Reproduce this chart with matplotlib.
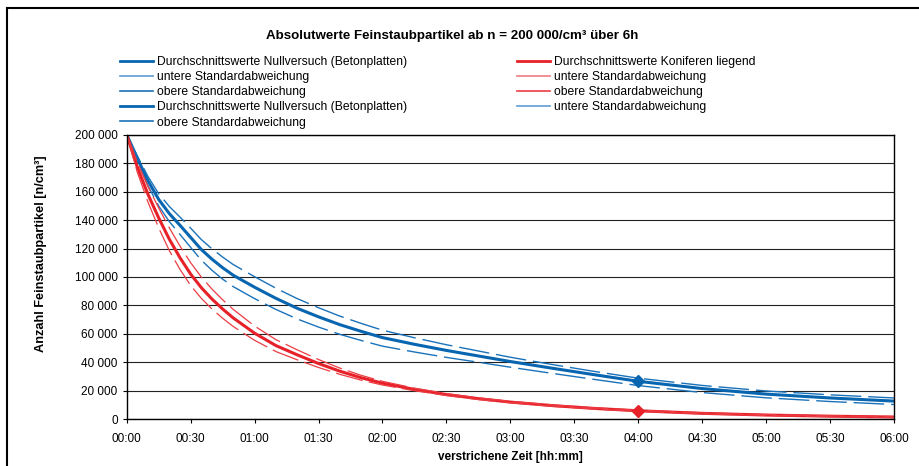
"""Feinstaubpartikel: Nullversuch vs. Koniferen liegend, 6h."""

import matplotlib
matplotlib.use("Agg")
import matplotlib.pyplot as plt
from matplotlib.patches import Rectangle
from matplotlib.ticker import FuncFormatter

plt.rcParams["font.family"] = ["Liberation Sans", "DejaVu Sans"]
plt.rcParams["font.size"] = 8

# Zeit in Minuten
minutes = [0, 5, 10, 15, 20, 25, 30, 35, 40, 45, 50, 60, 70, 80, 90, 100, 110, 120,
           135, 150, 165, 180, 200, 220, 240, 270, 300, 330, 360]

# Werte in Tausend Partikel / cm3
blue_mean = [200, 183.3, 167.5, 154.5, 144.5, 136.3, 127.8, 119.3, 112.5, 106.5,
             101.2, 92.8, 85, 78, 72, 66.5, 61.8, 57.4, 52.7, 48.4, 44.5, 40.6,
             35.8, 31.2, 26.7, 21.6, 17.7, 15, 12.8]
blue_upper = [200, 185, 170.5, 158.5, 149.5, 142.1, 134.3, 126.3, 119.8, 114,
              108.7, 100.2, 92.1, 84.8, 78.4, 72.5, 67.4, 62.6, 57.3, 52.4, 48,
              43.6, 38.4, 33.5, 28.9, 23.8, 19.9, 17.2, 15.0]
blue_lower = [200, 181.3, 164, 149.9, 138.9, 129.9, 120.8, 111.8, 104.7, 98.5,
              93.2, 84.8, 77.2, 70.5, 64.8, 59.7, 55.4, 51.4, 47.3, 43.5, 40.1,
              36.6, 32.2, 27.9, 23.7, 18.8, 15.1, 12.5, 10.4]

red_mean = [200, 177, 158, 141.5, 126.5, 113.5, 102, 92.5, 84.5, 77.5, 71.2,
            60.5, 51.8, 45.3, 39.2, 33.8, 29.2, 25.4, 21, 17.4, 14.5, 12.1, 9.6,
            7.6, 6, 4.2, 3, 2.2, 1.6]
red_upper = [200, 180.5, 163.5, 148.5, 134.5, 121.7, 110, 100, 91.5, 84, 77.2,
             65.5, 56, 48.8, 42, 36, 30.9, 26.7, 21.9, 18.1, 15.1, 12.6, 10.1, 8,
             6.4, 4.6, 3.3, 2.5, 1.9]
red_lower = [200, 173.5, 152.5, 134.5, 118.5, 105.3, 94, 85, 77.5, 71, 65.2,
             55.5, 47.6, 41.8, 36.4, 31.6, 27.5, 24.1, 20.1, 16.7, 13.9, 11.6,
             9.1, 7.2, 5.6, 3.8, 2.7, 1.9, 1.3]

marker_time = 240

x_ticks = list(range(0, 361, 30))
y_ticks = list(range(0, 200001, 20000))

BLUE = "#0865B0"
BLUE_LIGHT = "#5E9CD3"
BLUE_STD = "#1A72BA"
RED = "#E62129"
RED_LIGHT = "#F07C80"
RED_STD = "#EC3C42"
DASH = (0, (22, 5))


def k(vals):
    return [v * 1000 for v in vals]


fig = plt.figure(figsize=(9.19, 4.66), dpi=100)
ax = fig.add_axes([0.1379, 0.1002, 0.8349, 0.6108])

ax.plot(minutes, k(blue_mean), color=BLUE, lw=2.2, solid_capstyle="round",
        solid_joinstyle="round")
ax.plot(minutes, k(blue_lower), color=BLUE_STD, lw=1.0, linestyle=DASH)
ax.plot(minutes, k(blue_upper), color=BLUE_STD, lw=1.0, linestyle=DASH)
ax.plot(minutes, k(red_mean), color=RED, lw=2.2, solid_capstyle="round",
        solid_joinstyle="round")
ax.plot(minutes, k(red_lower), color=RED_STD, lw=0.9, linestyle=DASH)
ax.plot(minutes, k(red_upper), color=RED_STD, lw=0.9, linestyle=DASH)

mi = minutes.index(marker_time)
ax.plot([marker_time], [blue_mean[mi] * 1000], marker="D", color=BLUE, ms=6)
ax.plot([marker_time], [red_mean[mi] * 1000], marker="D", color=RED, ms=6)

ax.set_xlim(0, 360)
ax.set_ylim(0, 200000)
ax.set_xticks(x_ticks)
ax.set_xticklabels([f"{t // 60:02d}:{t % 60:02d}" for t in x_ticks])
ax.set_yticks(y_ticks)
ax.yaxis.set_major_formatter(FuncFormatter(lambda v, p: f"{int(v):,}".replace(",", " ")))
ax.tick_params(axis="both", direction="out", length=3, width=0.8, labelsize=8.5,
               color="black")
ax.tick_params(axis="x", pad=7)
ax.grid(axis="y", color="#222222", linewidth=0.8)
ax.set_axisbelow(True)
for sp in ax.spines.values():
    sp.set_color("black")
    sp.set_linewidth(1.0)

ax.set_xlabel("verstrichene Zeit [hh:mm]", fontsize=8.5, fontweight="bold", labelpad=4.5)
ax.set_ylabel("Anzahl Feinstaubpartikel [n/cm³]", fontsize=9.2, fontweight="bold")
ax.yaxis.set_label_coords(-0.104, 0.581)

fig.text(0.492, 0.923, "Absolutwerte Feinstaubpartikel ab n = 200 000/cm³ über 6h",
         ha="center", va="center", fontsize=9.6, fontweight="bold")

# Legende (zwei Spalten, wie Excel)
leg_blue_mean = plt.Line2D([], [], color=BLUE, lw=2.0)
leg_blue_low = plt.Line2D([], [], color=BLUE_LIGHT, lw=1.2)
leg_blue_up = plt.Line2D([], [], color=BLUE_STD, lw=1.2)
leg_red_mean = plt.Line2D([], [], color=RED, lw=2.0)
leg_red_low = plt.Line2D([], [], color=RED_LIGHT, lw=1.2)
leg_red_up = plt.Line2D([], [], color=RED_STD, lw=1.2)

handles = [leg_blue_mean, leg_blue_low, leg_blue_up, leg_blue_mean, leg_blue_up,
           leg_red_mean, leg_red_low, leg_red_up, leg_blue_low]
labels = ["Durchschnittswerte Nullversuch (Betonplatten)",
          "untere Standardabweichung",
          "obere Standardabweichung",
          "Durchschnittswerte Nullversuch (Betonplatten)",
          "obere Standardabweichung",
          "Durchschnittswerte Koniferen liegend",
          "untere Standardabweichung",
          "obere Standardabweichung",
          "untere Standardabweichung"]
fig.legend(handles, labels, ncol=2, loc="upper left",
           bbox_to_anchor=(120 / 919, 1 - 56 / 466), frameon=False, fontsize=8.7,
           borderpad=0, handlelength=2.75, handletextpad=0.3, labelspacing=0.26,
           columnspacing=9.1, borderaxespad=0)

fig.add_artist(Rectangle((7 / 919, -0.1), 1.2, 1.1 - 8 / 466, transform=fig.transFigure,
                         fill=False, edgecolor="black", linewidth=1.5))

fig.savefig("out.png", dpi=100)
